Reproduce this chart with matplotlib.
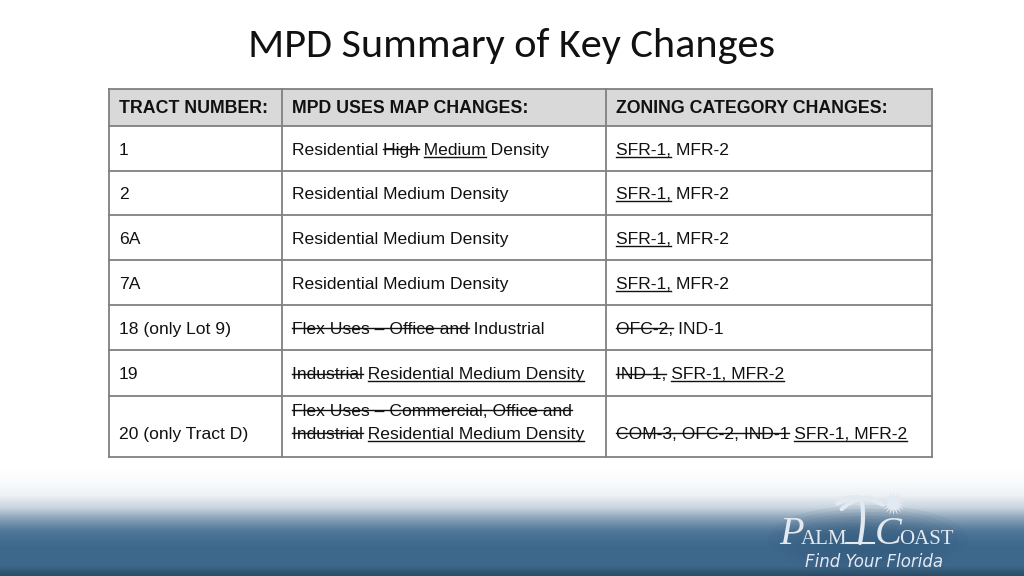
import numpy as np
import matplotlib
matplotlib.use("Agg")
import matplotlib.pyplot as plt
from matplotlib import font_manager
from matplotlib.colors import LinearSegmentedColormap
from matplotlib.patches import Ellipse

# ---- table content ----
title = "MPD Summary of Key Changes"
headers = ["TRACT NUMBER:", "MPD USES MAP CHANGES:", "ZONING CATEGORY CHANGES:"]
tracts = ["1", "2", "6A", "7A", "18 (only Lot 9)", "19", "20 (only Tract D)"]
# each cell: list of lines, each line: list of (text, style) where style n=normal, s=strike, u=underline
uses = [
    [[("Residential ", "n"), ("High", "s"), (" ", "n"), ("Medium", "u"), (" Density", "n")]],
    [[("Residential Medium Density", "n")]],
    [[("Residential Medium Density", "n")]],
    [[("Residential Medium Density", "n")]],
    [[("Flex Uses \u2013 Office and", "s"), (" Industrial", "n")]],
    [[("Industrial", "s"), (" ", "n"), ("Residential Medium Density", "u")]],
    [[("Flex Uses \u2013 Commercial, Office and", "s")],
     [("Industrial", "s"), (" ", "n"), ("Residential Medium Density", "u")]],
]
zoning = [
    [[("SFR-1,", "u"), (" MFR-2", "n")]],
    [[("SFR-1,", "u"), (" MFR-2", "n")]],
    [[("SFR-1,", "u"), (" MFR-2", "n")]],
    [[("SFR-1,", "u"), (" MFR-2", "n")]],
    [[("OFC-2,", "s"), (" IND-1", "n")]],
    [[("IND-1,", "s"), (" ", "n"), ("SFR-1, MFR-2", "u")]],
    [[("COM-3, OFC-2, IND-1", "s"), (" ", "n"), ("SFR-1, MFR-2", "u")]],
]

# ---- layout (pixels) ----
col_x = [109, 282, 606, 932]
row_y = [89, 126, 171, 215, 260, 305, 350, 396, 457]
pad = 10


def pick(names):
    for n in names:
        try:
            font_manager.findfont(n, fallback_to_default=False)
            return n
        except Exception:
            pass
    return "DejaVu Sans"


body_font = pick(["Liberation Sans Narrow", "Liberation Sans", "Arial"])
title_font = pick(["Carlito", "Lato", "Open Sans"])

fig = plt.figure(figsize=(10.24, 5.76), dpi=100)
ax = fig.add_axes([0, 0, 1, 1])
ax.set_xlim(0, 1024)
ax.set_ylim(576, 0)
ax.axis("off")
fig.canvas.draw()
renderer = fig.canvas.get_renderer()


def text_w(s, size, weight="normal", family=body_font):
    t = ax.text(0, 0, s, fontsize=size, family=family, fontweight=weight)
    w = t.get_window_extent(renderer).width
    t.remove()
    return w


def adv(s, size, weight="normal", family=body_font):
    # advance width including trailing spaces
    return text_w(s + "x", size, weight, family) - text_w("x", size, weight, family)


# fit font sizes to widths in the reference
body_size = 10 * 217 / text_w("Residential Medium Density", 10)
head_size = 10 * 271 / text_w("ZONING CATEGORY CHANGES:", 10, "bold")
title_size = 10 * 528 / text_w(title, 10, family=title_font)

# ---- bottom gradient band ----
y0 = 440
h = 576 - y0
ys = np.linspace(y0, 576, h)[:, None]
xs = np.linspace(0, 1, 512)[None, :]
t = np.clip((ys - 465) / 85, 0, 1)
band = t * t * (3 - 2 * t) + 0.0 * xs
band = band + 0.12 * np.clip((ys - 566) / 10, 0, 1)
cmap = LinearSegmentedColormap.from_list(
    "sea", [(0, "#ffffff"), (0.25, "#eef2f5"), (0.45, "#c8d4de"), (0.6, "#90a8bc"),
            (0.78, "#52789a"), (0.89, "#3e6a8e"), (1.0, "#2a4c68")])
ax.imshow(band, cmap=cmap, vmin=0, vmax=1.12, extent=(0, 1024, 576, y0),
          aspect="auto", zorder=0, interpolation="bilinear")

# dark halo behind logo
for k in range(7):
    ax.add_patch(Ellipse((868, 540), 200 - k * 18, 70 - k * 7, facecolor="#2f5575",
                         edgecolor="none", alpha=0.07, zorder=0.5))

# ---- title ----
ax.text(512, 46, title, fontsize=title_size, family=title_font, color="#111111",
        ha="center", va="center")

# ---- table ----
ax.add_patch(plt.Rectangle((col_x[0], row_y[0]), col_x[-1] - col_x[0], row_y[1] - row_y[0],
                           facecolor="#d9d9d9", edgecolor="none", zorder=1))
ax.add_patch(plt.Rectangle((col_x[0], row_y[1]), col_x[-1] - col_x[0], row_y[-1] - row_y[1],
                           facecolor="white", edgecolor="none", zorder=1))
for y in row_y:
    ax.plot([col_x[0], col_x[-1]], [y, y], color="#808080", lw=1.3, zorder=2)
for x in col_x:
    ax.plot([x, x], [row_y[0], row_y[-1]], color="#808080", lw=1.3, zorder=2)

for c, head in enumerate(headers):
    ax.text(col_x[c] + pad, (row_y[0] + row_y[1]) / 2 + 1, head, fontsize=head_size,
            family=body_font, fontweight="bold", color="#111111", va="center", zorder=3)

px = body_size * 100 / 72  # font size in pixels


def draw_line(x0, baseline, segments):
    full = "".join(s for s, _ in segments)
    ax.text(x0, baseline, full, fontsize=body_size, family=body_font, color="#111111",
            va="baseline", zorder=3)
    prefix = ""
    for s, style in segments:
        if style != "n":
            core = s.strip()
            lead = s[:len(s) - len(s.lstrip())]
            xa = x0 + (adv(prefix + lead, body_size) if prefix + lead else 0)
            xb = xa + text_w(core, body_size)
            yy = baseline - 0.33 * px if style == "s" else baseline + 0.12 * px
            ax.plot([xa, xb], [yy, yy], color="#111111", lw=1.0, zorder=4)
        prefix += s


cells = [[[(t, "n")]] for t in tracts]
for r in range(len(tracts)):
    top, bot = row_y[r + 1], row_y[r + 2]
    last = r == len(tracts) - 1
    for c, cell in enumerate([cells[r], uses[r], zoning[r]]):
        n = len(cell)
        for i, line in enumerate(cell):
            if last:
                base = bot - 18 - (n - 1 - i) * 23
            else:
                base = (top + bot) / 2 + 0.36 * px + (i - (n - 1) / 2) * 23
            draw_line(col_x[c] + pad, base, line)

# ---- logo ----
logo_col = "#e3e9f0"
logo_base = 544
ax.text(779, logo_base, "P", fontsize=29, family="Liberation Serif", style="italic",
        color=logo_col, va="baseline", zorder=5)
ax.text(801, logo_base, "ALM", fontsize=15, family="Liberation Serif", color=logo_col,
        va="baseline", zorder=5)
ax.text(875, logo_base, "C", fontsize=29, family="Liberation Serif", style="italic",
        color=logo_col, va="baseline", zorder=5)
ax.text(899, logo_base, "OAST", fontsize=15, family="Liberation Serif", color=logo_col,
        va="baseline", zorder=5)
ax.text(874, 567, "Find Your Florida", fontsize=12, family="DejaVu Sans",
        style="italic", color=logo_col, ha="center", va="baseline", zorder=5)

# palm tree and sun
trunk_t = np.linspace(0, 1, 20)
ax.plot(860 + 3 * np.sin(trunk_t * 2.5), 543 - 43 * trunk_t, color=logo_col, lw=3,
        solid_capstyle="round", zorder=5)
for ang, ln in [(150, 22), (170, 24), (195, 20), (20, 20), (40, 16), (5, 22), (115, 14)]:
    a = np.deg2rad(ang)
    fx = np.linspace(0, 1, 10)
    ax.plot(861 + ln * fx * np.cos(a), 499 - ln * 0.6 * fx * np.sin(a) + 7 * fx ** 2,
            color=logo_col, lw=3, solid_capstyle="round", zorder=5)
ax.scatter([893], [503], s=300, marker=(18, 1, 0), color=logo_col, zorder=4.9,
           linewidths=0)
ax.plot([846, 874], [543, 543], color=logo_col, lw=1.5, zorder=5)

fig.savefig("out.png", dpi=100)
